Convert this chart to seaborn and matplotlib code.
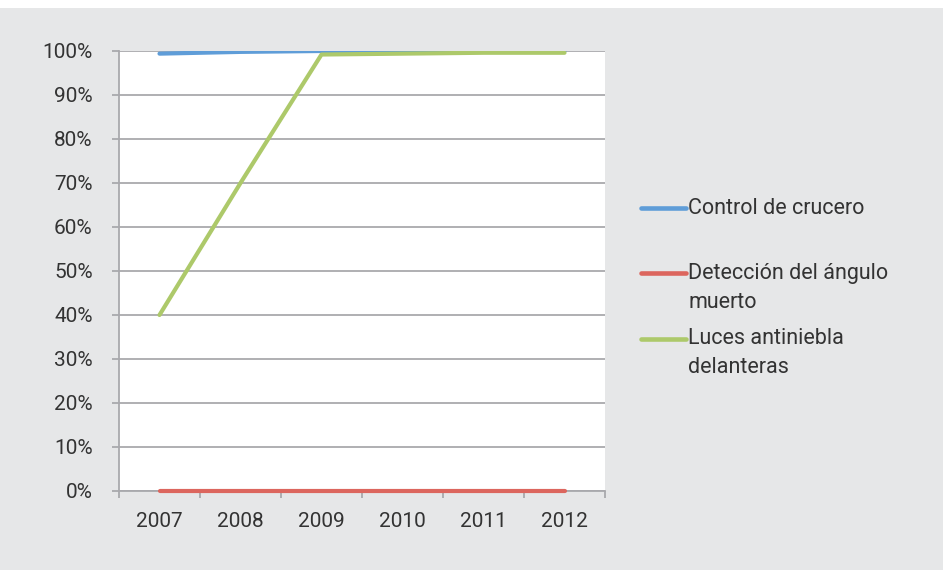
import matplotlib
matplotlib.use("Agg")
import numpy as np
import matplotlib.pyplot as plt
import seaborn as sns
import pandas as pd
from matplotlib.ticker import FixedLocator, PercentFormatter
from matplotlib.patches import Rectangle
from matplotlib.legend_handler import HandlerLine2D

years = ["2007", "2008", "2009", "2010", "2011", "2012"]
series = ["Control de crucero", "Detección del ángulo\nmuerto", "Luces antiniebla\ndelanteras"]
control_crucero = [0.994, 0.998, 1.0, 1.0, 1.0, 1.0]
angulo_muerto = [0.0, 0.0, 0.0, 0.0, 0.0, 0.0]
antiniebla = [0.40, 0.70, 0.992, 0.994, 0.996, 0.996]
colors = ["#5f9dd8", "#dc665e", "#adc96a"]

rows = []
for name, vals in zip(series, [control_crucero, angulo_muerto, antiniebla]):
    for y, v in zip(years, vals):
        rows.append({"year": y, "value": v, "series": name})
df = pd.DataFrame(rows)

sns.set_theme(style="white")
plt.rcParams["font.family"] = ["Roboto", "DejaVu Sans"]
text_color = "#333333"
grid_color = "#a9a9ad"
bg = "#e6e7e8"

fig = plt.figure(figsize=(9.43, 5.70), dpi=100, facecolor=bg)
fig.patches.append(Rectangle((0, 1 - 8 / 570), 1, 8 / 570, transform=fig.transFigure,
                             facecolor="white", edgecolor="none", zorder=-1))
ax = fig.add_axes([119 / 943, 1 - 491 / 570, (605 - 119) / 943, (491 - 51) / 570])
ax.set_facecolor("white")

sns.lineplot(data=df, x="year", y="value", hue="series", hue_order=series,
             palette=colors, linewidth=3.0, ax=ax, sort=False)
for i, ln in enumerate(ax.get_lines()):
    # the plot area clips the top, but the zero line sits on top of the axis
    ln.set_clip_on(i != 1)
    ln.set_solid_capstyle("round")
    ln.set_zorder(3 + i)

ax.set_xlim(-0.5, len(years) - 0.5)
ax.set_ylim(0, 1)
ax.set_yticks([i / 10 for i in range(11)])
ax.yaxis.set_major_formatter(PercentFormatter(1.0, decimals=0))
ax.xaxis.set_minor_locator(FixedLocator([i - 0.5 for i in range(len(years) + 1)]))
ax.grid(axis="y", color=grid_color, linewidth=1.3, zorder=1)
ax.set_axisbelow(True)
ax.set_xlabel("")
ax.set_ylabel("")

for s in ["top", "right"]:
    ax.spines[s].set_visible(False)
for s in ["left", "bottom"]:
    ax.spines[s].set_color(grid_color)
    ax.spines[s].set_linewidth(1.3)

ax.tick_params(axis="y", which="major", direction="out", length=5, width=1.3,
               color=grid_color, pad=14, labelsize=15, labelcolor=text_color, left=True)
ax.tick_params(axis="x", which="major", length=0, pad=15, labelsize=15, labelcolor=text_color)
ax.tick_params(axis="x", which="minor", direction="out", length=5, width=1.3,
               color=grid_color, bottom=True)


class FirstLineHandler(HandlerLine2D):
    """Places the legend line next to the first text line of the label."""
    def __init__(self, dy, **kw):
        super().__init__(**kw)
        self.dy = dy

    def create_artists(self, legend, orig_handle, xdescent, ydescent, width,
                       height, fontsize, trans):
        arts = super().create_artists(legend, orig_handle, xdescent, ydescent,
                                      width, height, fontsize, trans)
        for a in arts:
            a.set_ydata(np.asarray(a.get_ydata(), dtype=float) + self.dy)
        return arts


handles, labels = ax.get_legend_handles_labels()
ax.get_legend().remove()
# every entry gets two text lines so the slots are equal, as in the original
labels = [lb if "\n" in lb else lb + "\n" for lb in labels]
leg = fig.legend(handles, labels, loc="center left",
                 bbox_to_anchor=(641 / 943, 1 - 288 / 570), frameon=False,
                 fontsize=15.5, handlelength=2.1, handletextpad=0.1,
                 labelspacing=0.7, borderpad=0, borderaxespad=0,
                 handler_map={h: FirstLineHandler(10.8) for h in handles})
for t in leg.get_texts():
    t.set_color(text_color)
    t.set_linespacing(1.5)
for h in leg.get_lines():
    h.set_linewidth(3.3)

fig.savefig("out.png", dpi=100, facecolor=bg)
